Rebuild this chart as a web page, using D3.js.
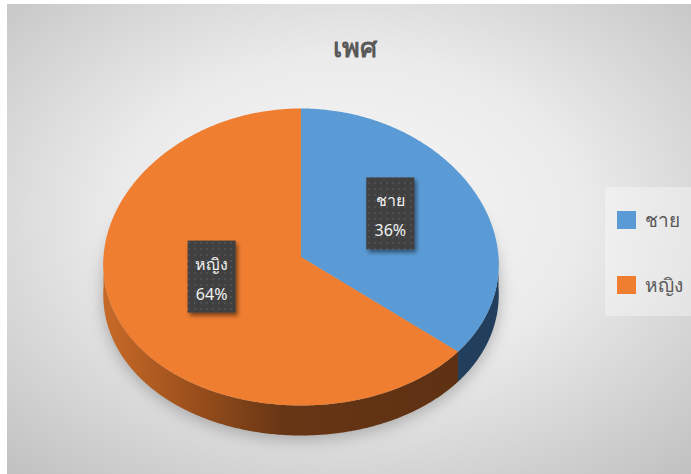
<!DOCTYPE html>
<html><head><meta charset="utf-8">
<script src="https://cdn.jsdelivr.net/npm/d3@7"></script>
<style>html,body{margin:0;padding:0;background:#fff;}svg{display:block;}</style>
</head><body>
<svg id="c" width="691" height="474"></svg>
<script>
const title = "เพศ";
const categories = ["ชาย", "หญิง"];
const values = [36, 64];
const colors = ["#5b9bd5", "#ef7e31"];

const W = 691, H = 474;
const svg = d3.select("#c");
const defs = svg.append("defs");

// background gradient
const bg = defs.append("radialGradient").attr("id","bg").attr("cx","0.5").attr("cy","0.45").attr("r","0.75");
bg.append("stop").attr("offset","0").attr("stop-color","#f7f7f7");
bg.append("stop").attr("offset","0.45").attr("stop-color","#ebebeb");
bg.append("stop").attr("offset","1").attr("stop-color","#c0c0c0");
svg.append("rect").attr("x",7).attr("y",4).attr("width",W-7).attr("height",H-4).attr("fill","url(#bg)");

// filters
const sh = defs.append("filter").attr("id","pieShadow").attr("x","-20%").attr("y","-20%").attr("width","140%").attr("height","140%");
sh.append("feGaussianBlur").attr("stdDeviation",8);
const ls = defs.append("filter").attr("id","lblShadow").attr("x","-30%").attr("y","-30%").attr("width","160%").attr("height","160%");
ls.append("feGaussianBlur").attr("in","SourceAlpha").attr("stdDeviation",2).attr("result","b");
ls.append("feOffset").attr("in","b").attr("dx",2).attr("dy",3).attr("result","o");
ls.append("feComponentTransfer").attr("in","o").attr("result","o2").append("feFuncA").attr("type","linear").attr("slope",0.5);
const lm = ls.append("feMerge"); lm.append("feMergeNode").attr("in","o2"); lm.append("feMergeNode").attr("in","SourceGraphic");

const pat = defs.append("pattern").attr("id","dots").attr("width",6).attr("height",6).attr("patternUnits","userSpaceOnUse");
pat.append("rect").attr("width",6).attr("height",6).attr("fill","#3f3f3f");
pat.append("rect").attr("x",2).attr("y",2).attr("width",2).attr("height",2).attr("fill","#4f4f4f");

// side gradients
const og = defs.append("linearGradient").attr("id","oside").attr("gradientUnits","userSpaceOnUse").attr("x1",104).attr("x2",499).attr("y1",0).attr("y2",0);
og.append("stop").attr("offset","0").attr("stop-color","#c76a28");
og.append("stop").attr("offset","0.2").attr("stop-color","#a0521c");
og.append("stop").attr("offset","0.45").attr("stop-color","#673615");
og.append("stop").attr("offset","1").attr("stop-color","#5c3012");
const sideColors = ["#213f5d", "url(#oside)"];

// title
svg.append("text").attr("x",355).attr("y",57).attr("text-anchor","middle")
  .attr("font-family","Noto Sans, sans-serif").attr("font-size",27).attr("font-weight","bold")
  .attr("fill","#595959").text(title);

// pie geometry (slight perspective: front wider)
const cx = 301, cy = 257, rx = 197.5, ry = 148.5, depth = 30, persp = 0.05;
const pie = d3.pie().sort(null).value(d => d)(values);
const px = (a, dy=0) => cx + rx*Math.sin(a)*(1 + persp*(-Math.cos(a)));
const py = (a, dy=0) => cy - ry*Math.cos(a) + dy;
const line = d3.line();
function arcPts(a0, a1, dy=0){
  const n = Math.max(2, Math.ceil((a1-a0)/0.01));
  return d3.range(n+1).map(k => { const a = a0 + (a1-a0)*k/n; return [px(a), py(a)+dy]; });
}
function topPath(a0, a1){
  return line([[cx,cy], ...arcPts(a0,a1)]) + "Z";
}
function sidePath(a0, a1){
  const s = Math.max(a0, Math.PI/2), e = Math.min(a1, 3*Math.PI/2);
  if (e <= s) return null;
  return line([...arcPts(s,e), ...arcPts(s,e,depth).reverse()]) + "Z";
}

// shadow
const shg = svg.append("g").attr("filter","url(#pieShadow)").attr("opacity",0.55);
shg.append("path").attr("d", line([...arcPts(0, 2*Math.PI, depth/2+6)]) + "Z").attr("fill","#7a7a7a");
shg.append("path").attr("d", line([...arcPts(Math.PI/2, 3*Math.PI/2, depth+4)]) + "Z").attr("fill","#7a7a7a");

// sides
const g = svg.append("g");
pie.forEach((p,i) => {
  const d = sidePath(p.startAngle, p.endAngle);
  if (d) g.append("path").attr("d",d).attr("fill",sideColors[i]);
});
// tops
pie.forEach((p,i) => {
  g.append("path").attr("d",topPath(p.startAngle,p.endAngle)).attr("fill",colors[i]);
});

// labels
const total = d3.sum(values);
pie.forEach((p,i) => {
  const m = (p.startAngle + p.endAngle)/2;
  const lx = cx + 0.5*rx*Math.sin(m);
  const ly = cy - 0.5*ry*Math.cos(m) - 12;
  const bw = 48, bh = 72;
  const lg = svg.append("g");
  lg.append("rect").attr("x",lx-bw/2).attr("y",ly-bh/2).attr("width",bw).attr("height",bh)
    .attr("fill","url(#dots)").attr("filter","url(#lblShadow)");
  lg.append("text").attr("x",lx).attr("y",ly-7).attr("text-anchor","middle")
    .attr("font-family","Noto Sans, sans-serif").attr("font-size",16).attr("fill","#f2f2f2").text(categories[i]);
  lg.append("text").attr("x",lx).attr("y",ly+23).attr("text-anchor","middle")
    .attr("font-family","Noto Sans, sans-serif").attr("font-size",16).attr("fill","#f2f2f2")
    .text(Math.round(values[i]/total*100) + "%");
});

// legend
svg.append("rect").attr("x",605).attr("y",187).attr("width",86).attr("height",129).attr("fill","#ffffff").attr("opacity",0.35);
const leg = svg.append("g");
categories.forEach((c,i) => {
  const y = 211 + i*65;
  leg.append("rect").attr("x",617).attr("y",y).attr("width",19).attr("height",18).attr("fill",colors[i]);
  leg.append("text").attr("x",645).attr("y",y+16).attr("font-family","Noto Sans, sans-serif")
    .attr("font-size",19).attr("fill","#595959").text(c);
});
</script>
</body></html>
